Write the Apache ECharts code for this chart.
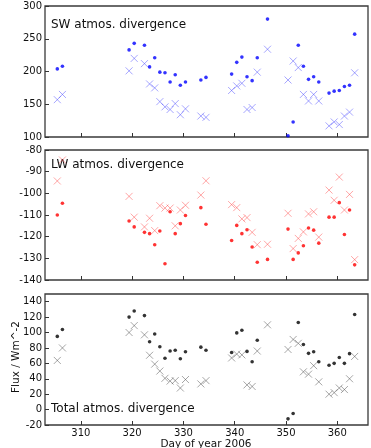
<!DOCTYPE html>
<html><head><meta charset="utf-8">
<script src="https://cdn.jsdelivr.net/npm/echarts@6/dist/echarts.min.js"></script>
<style>html,body{margin:0;padding:0;background:#fff}#c{width:371px;height:448px}</style>
</head><body><div id="c"></div>
<script>
// Day of year for each observation
const dayX = [305.4,306.4,319.4,320.4,322.4,323.4,324.4,325.4,326.4,327.4,328.4,329.4,330.4,333.4,334.4,339.4,340.4,341.4,342.4,343.4,344.4,346.4,350.4,351.4,352.4,353.4,354.4,355.4,356.4,358.4,359.4,360.4,361.4,362.4,363.4];
// SW atmos. divergence
const swDots = [204,208,233,243,240,207,221,199,198,184,195,179,184,187,191,196,214,222,192,186,221,280,102,123,240,208,188,192,184,167,170,171,177,179,257];
const swCross = [157,165,201,220,212,181,175,154,146,142,151,134,143,132,130,171,178,182,142,145,199,234,187,216,206,165,155,165,155,117,123,119,132,138,198];
// LW atmos. divergence
const lwDots = [-110,-104.6,-112.8,-115.5,-118,-118.6,-123.7,-117.4,-132.5,-108.5,-118.6,-114,-110.2,-106.6,-114.3,-121.8,-114.8,-118.6,-116.8,-124.8,-131.8,-130.5,-116.5,-130.5,-127.5,-124.2,-116,-117,-123,-111,-111,-104.3,-119,-107.7,-133];
const lwCross = [-94.3,-84.6,-101.4,-111,-115.5,-111.5,-117.2,-105.7,-106.8,-106.8,-115,-107.7,-105.5,-100.8,-94.2,-105.2,-106.6,-111.8,-111.2,-118,-123.7,-123.5,-109.2,-125.5,-120.8,-117.8,-109.5,-108.5,-120.2,-98.5,-103.2,-92.5,-107.7,-100.5,-130.6];
// Total atmos. divergence
const totDots = [95,104,120,128,122,88,98,81.5,66.6,76,77,66,75,81,77,74,99.5,103,75.5,62,90,null,-12,-5,113,84.5,73,75,62,57.6,60,67.5,60,72.6,123.4];
const totCross = [63.8,80,100,109,97,70.5,59,50,40.6,37,37.6,28,39,33.3,37.6,67,72,71,32,30,76,110,78,91,86,49,46,57,36,20,22,28,26,40,69];
// Axis ticks
const xTicks = [310,320,330,340,350,360];
const yTicks = [
  [100,150,200,250,300],
  [-140,-130,-120,-110,-100,-90,-80],
  [-20,0,20,40,60,80,100,120,140]
];
const yRanges = [[100,300],[-140,-80],[-20,150]];
const panelTitles = ['SW atmos. divergence','LW atmos. divergence','Total atmos. divergence'];
const xName = 'Day of year 2006';
const yName = 'Flux / Wm^-2';

const FONT = 'DejaVu Sans';
const grids = [
  {left:45, top:6, width:323, height:131},
  {left:45, top:150, width:323, height:130},
  {left:45, top:294, width:323, height:131}
].map(g => Object.assign(g, {show:true, borderColor:'#3a3a3a', borderWidth:1.3, outerBoundsMode:'none'}));

const xAxes = [], yAxes = [];
for (let i = 0; i < 3; i++) {
  xAxes.push({type:'value', min:303, max:366, gridIndex:i, splitLine:{show:false},
    axisLine:{show:false, onZero:false},
    axisTick:{show:true, inside:true, length:4, lineStyle:{color:'#333'}, customValues:xTicks},
    axisLabel:{show:i===2, customValues:xTicks, margin:3, color:'#111', fontFamily:FONT, fontSize:10}});
  const [mn, mx] = yRanges[i];
  yAxes.push({type:'value', min:mn, max:mx, gridIndex:i, splitLine:{show:false},
    axisLine:{show:false, onZero:false},
    axisTick:{show:true, inside:true, length:4, lineStyle:{color:'#333'}, customValues:yTicks[i]},
    axisLabel:{show:true, customValues:yTicks[i], margin:3, color:'#111', fontFamily:FONT, fontSize:10, hideOverlap:false}});
}

const crossPath = 'path://M0,0L10,10M10,0L0,10';
function pairs(ys){ return dayX.map((x,i)=> ys[i]==null ? null : [x, ys[i]]).filter(p=>p); }
function dots(i, ys, color){
  return {type:'scatter', xAxisIndex:i, yAxisIndex:i, data:pairs(ys), symbol:'circle', symbolSize:3.6,
    itemStyle:{color:color}, silent:true, z:3};
}
function crosses(i, ys, color){
  return {type:'scatter', xAxisIndex:i, yAxisIndex:i, data:pairs(ys), symbol:crossPath, symbolSize:7,
    itemStyle:{color:'transparent', borderColor:color, borderWidth:1}, silent:true, z:2};
}

const chart = echarts.init(document.getElementById('c'), null, {renderer:'canvas'});
chart.setOption({
  animation:false,
  grid:grids,
  xAxis:xAxes,
  yAxis:yAxes,
  series:[
    dots(0, swDots, '#0000ff'), crosses(0, swCross, 'rgba(70,70,255,0.6)'),
    dots(1, lwDots, '#ff0000'), crosses(1, lwCross, 'rgba(255,70,70,0.6)'),
    dots(2, totDots, '#000000'), crosses(2, totCross, 'rgba(70,70,70,0.6)')
  ],
  graphic:[
    {type:'text', left:51, top:19, style:{text:panelTitles[0], font:'12px "DejaVu Sans"', fill:'#111'}},
    {type:'text', left:51, top:159, style:{text:panelTitles[1], font:'12px "DejaVu Sans"', fill:'#111'}},
    {type:'text', left:51, top:403, style:{text:panelTitles[2], font:'12px "DejaVu Sans"', fill:'#111'}},
    {type:'text', x:206, y:444, style:{text:xName, font:'10.5px "DejaVu Sans"', fill:'#111', align:'center', verticalAlign:'middle'}},
    {type:'text', x:16, y:357, rotation:Math.PI/2, style:{text:yName, font:'10.5px "DejaVu Sans"', fill:'#111', align:'center', verticalAlign:'middle'}}
  ]
});
</script></body></html>
